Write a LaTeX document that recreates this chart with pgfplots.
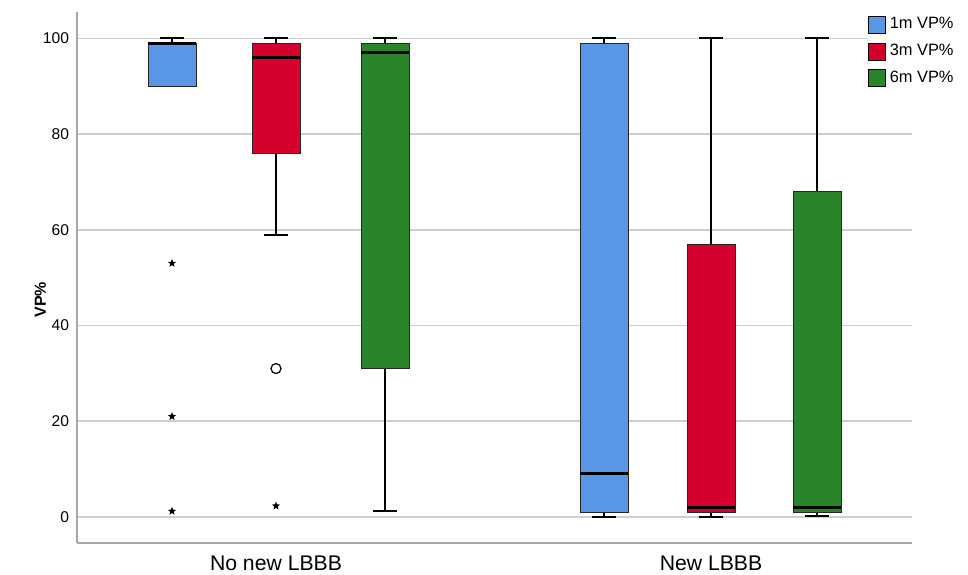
\documentclass[border=0pt]{standalone}
\usepackage{pgfplots}
\pgfplotsset{compat=1.18}
\usepgfplotslibrary{statistics}
\usepackage{fontspec}
\setmainfont{Liberation Sans}
\definecolor{cblue}{HTML}{5797E5}
\definecolor{cred}{HTML}{D6002F}
\definecolor{cgreen}{HTML}{2A852A}
\definecolor{gridc}{HTML}{CFCFCF}
\definecolor{axc}{HTML}{A8A8A8}
\pgfdeclareplotmark{fstar}{%
  \pgfpathmoveto{\pgfpointpolar{90}{\pgfplotmarksize}}%
  \pgfpathlineto{\pgfpointpolar{126}{0.42\pgfplotmarksize}}%
  \pgfpathlineto{\pgfpointpolar{162}{\pgfplotmarksize}}%
  \pgfpathlineto{\pgfpointpolar{198}{0.42\pgfplotmarksize}}%
  \pgfpathlineto{\pgfpointpolar{234}{\pgfplotmarksize}}%
  \pgfpathlineto{\pgfpointpolar{270}{0.42\pgfplotmarksize}}%
  \pgfpathlineto{\pgfpointpolar{306}{\pgfplotmarksize}}%
  \pgfpathlineto{\pgfpointpolar{342}{0.42\pgfplotmarksize}}%
  \pgfpathlineto{\pgfpointpolar{18}{\pgfplotmarksize}}%
  \pgfpathlineto{\pgfpointpolar{54}{0.42\pgfplotmarksize}}%
  \pgfpathclose
  \pgfusepathqfill}
\begin{document}
\begin{tikzpicture}
\begin{axis}[
  scale only axis, width=417.5pt, height=265.5pt,
  xmin=77, xmax=912, ymin=-5.45, ymax=105.5,
  axis x line*=bottom, axis y line*=left,
  axis line style={draw=axc, line width=1pt, -},
  xtick={276,711}, xticklabels={No new LBBB, New LBBB},
  ytick={0,20,40,60,80,100},
  major tick length=0pt,
  ymajorgrids, grid style={draw=gridc, line width=0.8pt},
  /pgf/number format/assume math mode=true,
  yticklabel style={font=\fontsize{7.8}{9}\selectfont, xshift=-0.5pt},
  xticklabel style={font=\fontsize{10.6}{12}\selectfont, yshift=-3pt},
  ylabel={\textbf{VP\%}},
  ylabel style={font=\fontsize{8}{9}\selectfont, at={(axis description cs:-0.044,0.458)}, anchor=center},
  boxplot/draw direction=y,
  boxplot/box extend=48,
  boxplot/whisker extend=24,
  boxplot/every box/.style={draw=black!85, line width=0.5pt},
  boxplot/every whisker/.style={draw=black, line width=1pt},
  boxplot/every median/.style={draw=black, line width=1.5pt},
  nomark/.style={mark=*, mark options={opacity=0, draw opacity=0, fill opacity=0}},
  legend image code/.code={\draw[#1, line width=0.5pt] (0pt,-4.5pt) rectangle (8.5pt,4pt);},
  legend style={draw=none, fill=white, at={(0.947,0.998)}, anchor=north west,
    inner sep=0pt, outer sep=0pt, row sep=2.2pt, font=\fontsize{8.2}{9}\selectfont},
  legend cell align=left,
  clip=false,
]
\coordinate (O) at (rel axis cs:0,0);
% No new LBBB (outliers given as data)
\addplot[forget plot, mark=fstar, mark size=2.2pt, mark options={fill=black}, fill=cblue, draw=black,
  boxplot prepared={draw position=172,
  lower whisker=90, lower quartile=90, median=99, upper quartile=99, upper whisker=100}]
  table[row sep=\\, y index=0] {data\\ 53\\ 21\\ 1.2\\};
\addplot[forget plot, mark=fstar, mark size=2.2pt, mark options={fill=black}, fill=cred, draw=black,
  boxplot prepared={draw position=276,
  lower whisker=59, lower quartile=76, median=96, upper quartile=99, upper whisker=100}]
  table[row sep=\\, y index=0] {data\\ 2.3\\};
\addplot[forget plot, nomark, fill=cgreen, draw=black, boxplot prepared={draw position=385,
  lower whisker=1.2, lower quartile=31, median=97, upper quartile=99, upper whisker=100}]
  table[row sep=\\, y index=0] {data\\ 100\\};
% New LBBB
\addplot[forget plot, nomark, fill=cblue, draw=black, boxplot prepared={draw position=604,
  lower whisker=0, lower quartile=1, median=9, upper quartile=99, upper whisker=100}]
  table[row sep=\\, y index=0] {data\\ 100\\};
\addplot[forget plot, nomark, fill=cred, draw=black, boxplot prepared={draw position=711,
  lower whisker=0, lower quartile=1, median=2, upper quartile=57, upper whisker=100}]
  table[row sep=\\, y index=0] {data\\ 100\\};
\addplot[forget plot, nomark, fill=cgreen, draw=black, boxplot prepared={draw position=817,
  lower whisker=0.2, lower quartile=1, median=2, upper quartile=68, upper whisker=100}]
  table[row sep=\\, y index=0] {data\\ 100\\};
% outlier shown as a circle
\addplot[forget plot, only marks, mark=o, mark size=2.5pt, mark options={line width=0.6pt}, black] coordinates {(276,31)};
\addlegendimage{fill=cblue, draw=black}
\addlegendentry{1m VP\%}
\addlegendimage{fill=cred, draw=black}
\addlegendentry{3m VP\%}
\addlegendimage{fill=cgreen, draw=black}
\addlegendentry{6m VP\%}
\end{axis}
\pgfresetboundingbox
\path[use as bounding box] ([shift={(-38.5pt,-15.5pt)}]O) rectangle ++(484pt,287pt);
\end{tikzpicture}
\end{document}
